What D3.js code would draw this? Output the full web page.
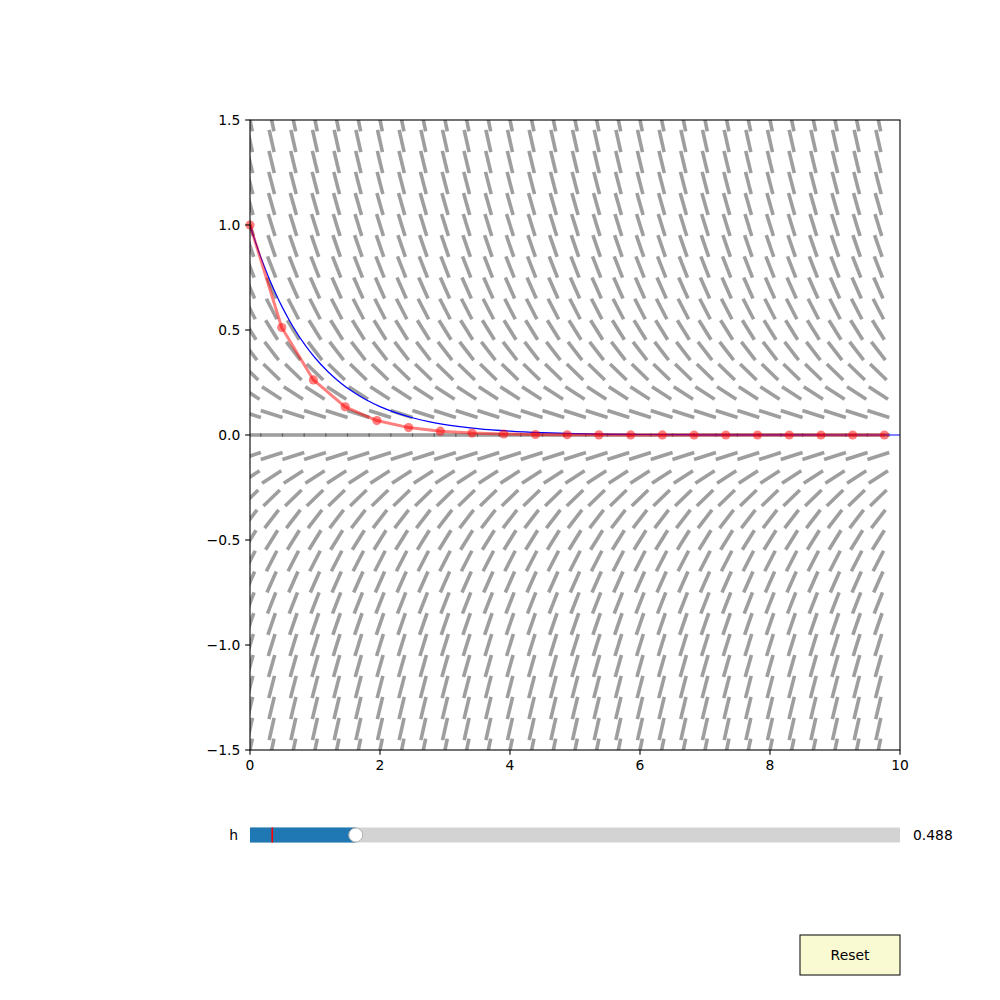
<!DOCTYPE html>
<html>
<head>
<meta charset="utf-8">
<script src="https://cdn.jsdelivr.net/npm/d3@7"></script>
<style>
  html, body { margin: 0; padding: 0; background: #fff; }
  svg { display: block; }
  text { font-family: "DejaVu Sans", sans-serif; }
</style>
</head>
<body>
<div id="chart"></div>
<script>
// ---- data ----
const xTicks = [0, 2, 4, 6, 8, 10];
const yTicks = [-1.5, -1.0, -0.5, 0.0, 0.5, 1.0, 1.5];
const yTickLabels = ["\u22121.5", "\u22121.0", "\u22120.5", "0.0", "0.5", "1.0", "1.5"];

// slope-field grid
const fieldT = [0, 0.333, 0.667, 1, 1.333, 1.667, 2, 2.333, 2.667, 3, 3.333, 3.667, 4, 4.333, 4.667,
                5, 5.333, 5.667, 6, 6.333, 6.667, 7, 7.333, 7.667, 8, 8.333, 8.667, 9, 9.333, 9.667];
const fieldY = [-1.5, -1.4, -1.3, -1.2, -1.1, -1.0, -0.9, -0.8, -0.7, -0.6, -0.5, -0.4, -0.3, -0.2, -0.1, 0,
                0.1, 0.2, 0.3, 0.4, 0.5, 0.6, 0.7, 0.8, 0.9, 1.0, 1.1, 1.2, 1.3, 1.4, 1.5];
const fieldSlope = [1.5, 1.4, 1.3, 1.2, 1.1, 1.0, 0.9, 0.8, 0.7, 0.6, 0.5, 0.4, 0.3, 0.2, 0.1, 0,
                -0.1, -0.2, -0.3, -0.4, -0.5, -0.6, -0.7, -0.8, -0.9, -1.0, -1.1, -1.2, -1.3, -1.4, -1.5];

// exact solution samples
const exactT = [0, 0.1, 0.2, 0.3, 0.4, 0.5, 0.6, 0.7, 0.8, 0.9, 1.0, 1.2, 1.4, 1.6, 1.8, 2.0, 2.25, 2.5, 2.75, 3.0,
                3.5, 4.0, 4.5, 5.0, 6.0, 7.0, 8.0, 9.0, 10.0];
const exactY = [1, 0.9048, 0.8187, 0.7408, 0.6703, 0.6065, 0.5488, 0.4966, 0.4493, 0.4066, 0.3679, 0.3012, 0.2466,
                0.2019, 0.1653, 0.1353, 0.1054, 0.0821, 0.0639, 0.0498, 0.0302, 0.0183, 0.0111, 0.0067, 0.0025,
                0.0009, 0.0003, 0.0001, 0.0000];

// Euler steps
const eulerT = [0, 0.488, 0.976, 1.464, 1.952, 2.44, 2.928, 3.416, 3.904, 4.392, 4.88, 5.368, 5.856, 6.344,
                6.832, 7.32, 7.808, 8.296, 8.784, 9.272, 9.76];
const eulerY = [1, 0.512, 0.2621, 0.1342, 0.0687, 0.0352, 0.0180, 0.0092, 0.0047, 0.0024, 0.0012, 0.0006,
                0.0003, 0.0002, 0.0001, 0, 0, 0, 0, 0, 0];

// slider
const sliderLabel = "h";
const sliderMin = 0, sliderMax = 3;
const sliderValue = 0.488;
const sliderInit = 0.1;
const sliderText = "0.488";
const buttonLabel = "Reset";

// ---- layout ----
const W = 1000, H = 1000;
const pL = 250, pR = 900, pT = 120, pB = 750;
const fs = 13.89;

const svg = d3.select("#chart").append("svg").attr("width", W).attr("height", H);

const x = d3.scaleLinear().domain([0, 10]).range([pL, pR]);
const y = d3.scaleLinear().domain([-1.5, 1.5]).range([pB, pT]);

svg.append("defs").append("clipPath").attr("id", "clip")
  .append("rect").attr("x", pL).attr("y", pT).attr("width", pR - pL).attr("height", pB - pT);

const plot = svg.append("g").attr("clip-path", "url(#clip)");

// slope field
const segLen = 23;
const field = [];
fieldY.forEach((yy, j) => {
  fieldT.forEach(tt => field.push({ t: tt, y: yy, s: fieldSlope[j] }));
});
plot.append("g").selectAll("line").data(field).join("line")
  .each(function(d) {
    const cx = x(d.t), cy = y(d.y);
    const dx = x(1) - x(0);
    const dy = y(d.s) - y(0);
    const n = Math.sqrt(dx * dx + dy * dy);
    const ux = dx / n * segLen / 2, uy = dy / n * segLen / 2;
    d3.select(this)
      .attr("x1", cx - ux).attr("y1", cy - uy)
      .attr("x2", cx + ux).attr("y2", cy + uy);
  })
  .attr("stroke", "#000").attr("stroke-opacity", 0.38)
  .attr("stroke-width", 3.6).attr("stroke-linecap", "butt");

// exact solution
const exactData = exactT.map((t, i) => [t, exactY[i]]);
plot.append("path").datum(exactData)
  .attr("d", d3.line().x(d => x(d[0])).y(d => y(d[1])).curve(d3.curveMonotoneX))
  .attr("fill", "none").attr("stroke", "#0000ff").attr("stroke-width", 1.2);

// Euler
const eulerData = eulerT.map((t, i) => [t, eulerY[i]]);
plot.append("path").datum(eulerData)
  .attr("d", d3.line().x(d => x(d[0])).y(d => y(d[1])))
  .attr("fill", "none").attr("stroke", "#ff0000").attr("stroke-opacity", 0.5)
  .attr("stroke-width", 3).attr("stroke-linejoin", "round");
svg.append("g").selectAll("circle").data(eulerData).join("circle")
  .attr("cx", d => x(d[0])).attr("cy", d => y(d[1])).attr("r", 4.6)
  .attr("fill", "#ff0000").attr("fill-opacity", 0.5);

// frame
svg.append("rect").attr("x", pL).attr("y", pT).attr("width", pR - pL).attr("height", pB - pT)
  .attr("fill", "none").attr("stroke", "#000").attr("stroke-width", 1.1);

// axes ticks
const tickLen = 4.86;
const gx = svg.append("g");
gx.selectAll("line").data(xTicks).join("line")
  .attr("x1", d => x(d)).attr("x2", d => x(d)).attr("y1", pB).attr("y2", pB + tickLen)
  .attr("stroke", "#000").attr("stroke-width", 1.1);
gx.selectAll("text").data(xTicks).join("text")
  .attr("x", d => x(d)).attr("y", pB + tickLen + 4.86 + fs * 0.76)
  .attr("text-anchor", "middle").attr("font-size", fs).attr("fill", "#000")
  .text(d => String(d));

const gy = svg.append("g");
gy.selectAll("line").data(yTicks).join("line")
  .attr("x1", pL - tickLen).attr("x2", pL).attr("y1", d => y(d)).attr("y2", d => y(d))
  .attr("stroke", "#000").attr("stroke-width", 1.1);
gy.selectAll("text").data(yTicks).join("text")
  .attr("x", pL - tickLen - 4.86).attr("y", d => y(d) + fs * 0.36)
  .attr("text-anchor", "end").attr("font-size", fs).attr("fill", "#000")
  .text((d, i) => yTickLabels[i]);

// slider
const sx = d3.scaleLinear().domain([sliderMin, sliderMax]).range([pL, pR]);
const sy = 835, sh = 15;
const sg = svg.append("g");
sg.append("rect").attr("x", pL).attr("y", sy - sh / 2).attr("width", pR - pL).attr("height", sh)
  .attr("fill", "#d3d3d3");
sg.append("rect").attr("x", pL).attr("y", sy - sh / 2).attr("width", sx(sliderValue) - pL).attr("height", sh)
  .attr("fill", "#1f77b4");
sg.append("rect").attr("x", sx(sliderInit) - 0.2).attr("y", sy - sh / 2).attr("width", 1.6).attr("height", sh)
  .attr("fill", "#ff0000");
sg.append("circle").attr("cx", sx(sliderValue)).attr("cy", sy).attr("r", 7)
  .attr("fill", "#fff").attr("stroke", "#b0b0b0").attr("stroke-width", 1);
sg.append("text").attr("x", pL - 12).attr("y", sy + fs * 0.36).attr("text-anchor", "end")
  .attr("font-size", fs).attr("fill", "#000").text(sliderLabel);
sg.append("text").attr("x", pR + 13).attr("y", sy + fs * 0.36).attr("text-anchor", "start")
  .attr("font-size", fs).attr("fill", "#000").text(sliderText);

// button
const bg = svg.append("g");
bg.append("rect").attr("x", 800).attr("y", 935).attr("width", 100).attr("height", 40)
  .attr("fill", "#fafad2").attr("stroke", "#000").attr("stroke-width", 1);
bg.append("text").attr("x", 850).attr("y", 955 + fs * 0.36).attr("text-anchor", "middle")
  .attr("font-size", fs).attr("fill", "#000").text(buttonLabel);
</script>
</body>
</html>
